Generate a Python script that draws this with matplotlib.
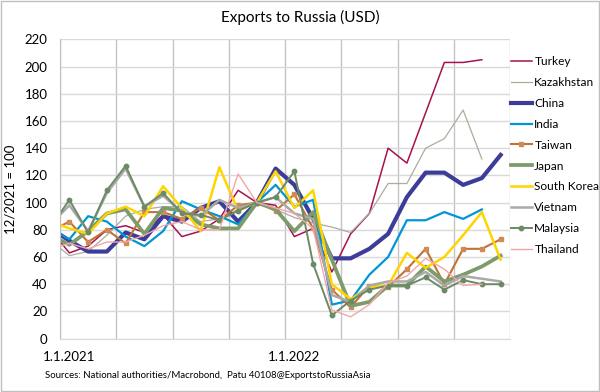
import numpy as np
import matplotlib
matplotlib.use('Agg')
import matplotlib.pyplot as plt
from matplotlib.patches import Rectangle

plt.rcParams['font.family'] = ['Lato', 'DejaVu Sans']

# DADOS: indice mensal, 12/2021 = 100 (mes -1 = dez/2020, cortado pelo eixo)
meses = np.arange(-1, 24)
nan = np.nan

turkey = [80, 63, 68, 80, 83, 78, 91, 75, 79, 88, 109, 100, 98, 75, 81, 49, 77, 92, 140, 129, 166, 203, 203, 205, nan]
kazakhstan = [72, 61, 64, 76, 90, 95, 97, 97, 86, 88, 95, 100, 95, 89, 85, 82, 78, 92, 114, 114, 140, 147, 168, 132, nan]
china = [81, 72, 64, 64, 78, 73, 90, 86, 96, 101, 86, 100, 125, 113, 88, 59, 59, 66, 77, 104, 122, 122, 113, 118, 135]
india = [81, 73, 90, 86, 75, 68, 79, 101, 95, 90, 84, 100, 113, 97, 102, 25, 28, 47, 60, 87, 87, 93, 88, 95, nan]
taiwan = [79, 86, 71, 80, 70, 93, 93, 88, 96, 87, 98, 100, 94, 106, 81, 36, 23, 39, 38, 51, 66, 40, 66, 66, 73]
japan = [76, 69, 79, 92, 95, 77, 96, 94, 84, 81, 81, 100, 95, 79, 93, 58, 24, 27, 39, 39, 53, 42, 47, 53, 61]
south_korea = [86, 81, 77, 92, 97, 90, 112, 96, 79, 126, 94, 100, 123, 96, 109, 40, 29, 38, 39, 63, 52, 60, 76, 93, 58]
vietnam = [84, 98, 79, 107, 125, 97, 105, 93, 90, 102, 96, 100, 104, 92, 88, 32, 27, 39, 42, 42, 49, 39, 46, 44, 42]
malaysia = [82, 102, 78, 109, 127, 97, 107, 92, 91, 87, 94, 100, 104, 123, 55, 17, 28, 36, 39, 39, 45, 36, 43, 40, 40]
thailand = [66, 70, 66, 71, 71, 76, 83, 86, 80, 80, 121, 100, 96, 92, 81, 21, 16, 25, 41, 46, 59, 51, 39, 40, nan]

rotulos_x = ['1.1.2021', '1.1.2022']
pos_rotulos_x = [0, 12]

fig = plt.figure(figsize=(6, 3.92), dpi=100)
ax = fig.add_axes([0.1, 0.1362, 0.75, 0.7635])

# series na ordem da legenda do Excel
ax.plot(meses, turkey, color='#A8114F', lw=1.1, label='Turkey')
ax.plot(meses, kazakhstan, color='#A9AE9C', lw=0.9, label='Kazakhstan')
ax.plot(meses, china, color='#3D3D99', lw=3.0, label='China')
ax.plot(meses, india, color='#0096D6', lw=1.6, label='India')
ax.plot(meses, taiwan, color='#BF7434', lw=1.5, marker='s', ms=3,
        markerfacecolor='#D08A55', markeredgecolor='#D08A55', label='Taiwan')
ax.plot(meses, japan, color='#7E9B6C', lw=2.7, label='Japan')
ax.plot(meses, south_korea, color='#FFD500', lw=1.8, label='South Korea')
ax.plot(meses, vietnam, color='#A9A9A9', lw=1.8, label='Vietnam')
ax.plot(meses, malaysia, color='#6C8A64', lw=1.4, marker='o', ms=3.2, label='Malaysia')
ax.plot(meses, thailand, color='#F2A7A7', lw=1.0, label='Thailand')

# eixos
ax.set_xlim(-0.5, 23.5)
ax.set_ylim(0, 220)
ax.set_yticks(np.arange(0, 221, 20))
ax.set_xticks(np.arange(-0.5, 24, 3), minor=True)
ax.set_xticks(pos_rotulos_x)
ax.set_xticklabels(rotulos_x)
ax.tick_params(axis='both', which='both', length=0, labelsize=9.5, colors='black')
ax.tick_params(axis='y', pad=9)
ax.tick_params(axis='x', pad=9)
ax.grid(axis='y', color='#D9D9D9', lw=1)
ax.grid(axis='x', which='minor', color='#C4C4C4', lw=1)
ax.grid(axis='x', which='major', visible=False)
ax.set_axisbelow(True)
for lado in ['top', 'right']:
    ax.spines[lado].set_visible(False)
ax.spines['left'].set_color('#BFBFBF')
ax.spines['bottom'].set_color('#D9D9D9')

ax.set_ylabel('12/2021 = 100', fontsize=9.5, labelpad=6)

fig.text(0.5, 1 - 17 / 392, 'Exports to Russia (USD)', ha='center', va='center', fontsize=11)
fig.text(45 / 600, 1 - 375 / 392,
         'Sources: National authorities/Macrobond,  Patu 40108@ExportstoRussiaAsia',
         ha='left', va='center', fontsize=6.9)

fig.legend(loc='upper left', bbox_to_anchor=(511 / 600, 1 - 56 / 392), frameon=False,
           fontsize=8.6, handlelength=1.75, handletextpad=0.2, labelspacing=0.83,
           borderpad=0, borderaxespad=0)

# moldura cinza em volta da figura
fig.patches.append(Rectangle((0.002, 0.003), 0.996, 0.994, transform=fig.transFigure,
                             fill=False, edgecolor='#BFBFBF', lw=1))

fig.savefig('out.png', dpi=100)
